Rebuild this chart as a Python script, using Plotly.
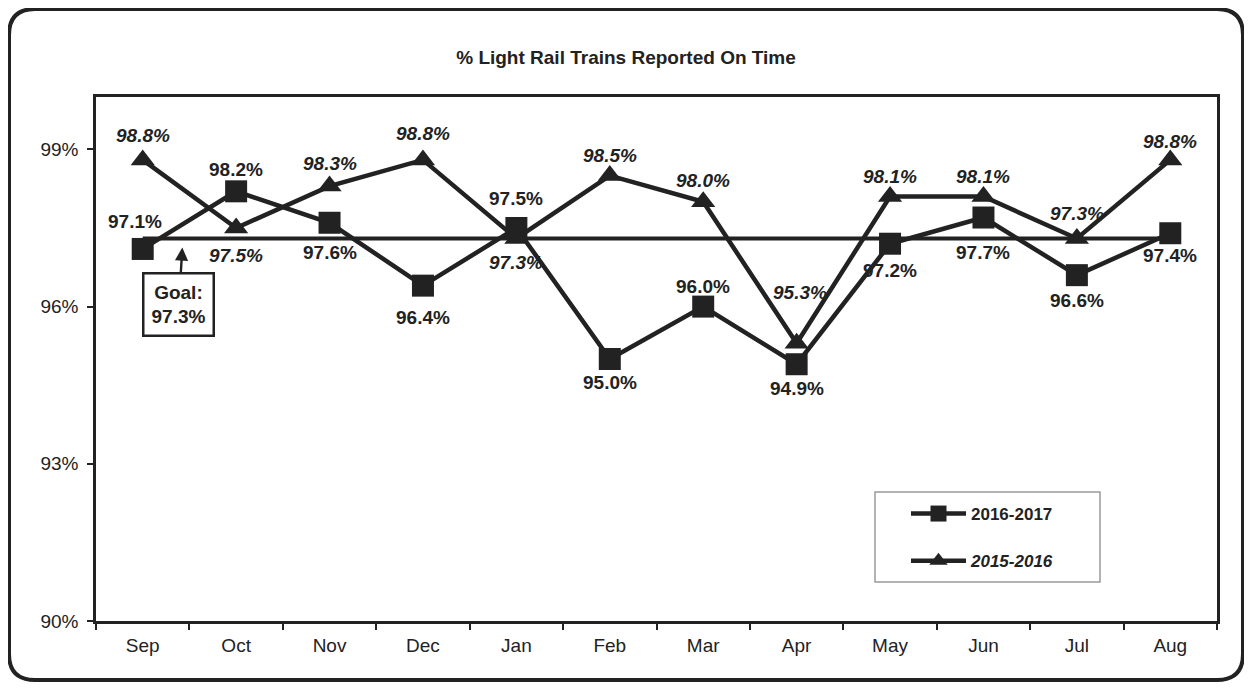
import plotly.graph_objects as go

# ---- data ----
months = ["Sep", "Oct", "Nov", "Dec", "Jan", "Feb", "Mar", "Apr", "May", "Jun", "Jul", "Aug"]
fy_2016_2017 = [97.1, 98.2, 97.6, 96.4, 97.5, 95.0, 96.0, 94.9, 97.2, 97.7, 96.6, 97.4]
fy_2015_2016 = [98.8, 97.5, 98.3, 98.8, 97.3, 98.5, 98.0, 95.3, 98.1, 98.1, 97.3, 98.8]
goal = 97.3
y_ticks = [90, 93, 96, 99]
title_text = "% Light Rail Trains Reported On Time"

# ---- label placement (styles, pixels) ----
shift_1617 = [27, 22, -30, -32, 30, -23, 20, -24, -27, -35, -25, -22]
xshift_1617 = [-8, 0, 0, 0, 0, 0, 0, 0, 0, 0, 0, 0]
shift_1516 = [24, -27, 23, 26, -24, 20, 21, 51, 20, 20, 25, 18]
xshift_1516 = [0, 0, 0, 0, 0, 0, 0, 3, 0, 0, 0, 0]

# page has an 8px body margin; figure sized to fit inside the window
OFF = 8
W, H = 1236, 674
L, T = 96 - OFF, 97 - OFF
PW, PH = 1121, 524
R, B = W - L - PW, H - T - PH
LINE = "#222222"
FONT = "Liberation Sans, Arial, sans-serif"


def px(xp):
    """reference-image x pixel -> paper x"""
    return (xp - OFF - L) / PW


def py(yp):
    """reference-image y pixel -> paper y"""
    return (T + PH - (yp - OFF)) / PH


fig = go.Figure()

fig.add_trace(go.Scatter(
    x=[months[0], months[-1]], y=[goal, goal], mode="lines",
    line=dict(color=LINE, width=4), showlegend=False, hoverinfo="skip"))

fig.add_trace(go.Scatter(
    x=months, y=fy_2016_2017, mode="lines+markers", name="<b>2016-2017</b>",
    line=dict(color=LINE, width=4.5),
    marker=dict(symbol="square", size=22, color=LINE),
    legendgroup="a"))

fig.add_trace(go.Scatter(
    x=months, y=fy_2015_2016, mode="lines+markers", name="<b><i>2015-2016</i></b>",
    line=dict(color=LINE, width=4.5),
    marker=dict(symbol="triangle-up", size=21, color=LINE),
    legendgroup="b"))

ann = []
for i, v in enumerate(fy_2016_2017):
    ann.append(dict(x=months[i], y=v, text=f"<b>{v:.1f}%</b>", showarrow=False,
                    yshift=shift_1617[i], xshift=xshift_1617[i],
                    font=dict(size=19, color=LINE, family=FONT)))
for i, v in enumerate(fy_2015_2016):
    ann.append(dict(x=months[i], y=v, text=f"<b><i>{v:.1f}%</i></b>", showarrow=False,
                    yshift=shift_1516[i], xshift=xshift_1516[i],
                    font=dict(size=19, color=LINE, family=FONT)))

# goal callout
ann.append(dict(x=0.43, y=goal, xref="x", yref="y",
                text=f"<b>Goal:<br>{goal:.1f}%</b>", showarrow=True,
                arrowhead=2, arrowsize=1.1, arrowwidth=2.4, arrowcolor=LINE,
                ax=-4, ay=66, standoff=9,
                bordercolor=LINE, borderwidth=2.5, borderpad=7, bgcolor="white",
                font=dict(size=19, color=LINE, family=FONT)))

# outer rounded frame
x0, x1, y0, y1, r = 9, 1243, 9, 680, 26
path = (f"M {px(x0 + r)},{py(y0)} L {px(x1 - r)},{py(y0)} "
        f"Q {px(x1)},{py(y0)} {px(x1)},{py(y0 + r)} "
        f"L {px(x1)},{py(y1 - r)} Q {px(x1)},{py(y1)} {px(x1 - r)},{py(y1)} "
        f"L {px(x0 + r)},{py(y1)} Q {px(x0)},{py(y1)} {px(x0)},{py(y1 - r)} "
        f"L {px(x0)},{py(y0 + r)} Q {px(x0)},{py(y0)} {px(x0 + r)},{py(y0)} Z")

shapes = [
    dict(type="path", path=path, xref="paper", yref="paper",
         line=dict(color=LINE, width=4), layer="above"),
    # legend box
    dict(type="rect", xref="paper", yref="paper",
         x0=px(875), x1=px(1100), y0=py(582), y1=py(492),
         line=dict(color="#9a9a9a", width=1.5), fillcolor="white", layer="below"),
]

fig.update_layout(
    width=W, height=H,
    margin=dict(l=L, r=R, t=T, b=B),
    paper_bgcolor="white", plot_bgcolor="white",
    font=dict(family=FONT, color=LINE),
    title=dict(text=f"<b>{title_text}</b>", x=0.5, xref="container", xanchor="center",
               y=1 - (57 - OFF) / H, yanchor="middle", font=dict(size=19, color=LINE)),
    xaxis=dict(type="category", categoryorder="array", categoryarray=months,
               range=[-0.5, 11.5], showline=True, linewidth=2.5,
               linecolor=LINE, mirror=True, ticks="outside", tickson="boundaries",
               ticklen=6, tickwidth=1.5, tickcolor=LINE, showgrid=False,
               tickfont=dict(size=19, color=LINE), ticklabelstandoff=5),
    yaxis=dict(range=[90, 100], tickvals=y_ticks, ticktext=[f"{t}%" for t in y_ticks],
               showline=True, linewidth=2.5, linecolor=LINE, mirror=True,
               ticks="outside", ticklen=6, tickwidth=1.5, tickcolor=LINE,
               showgrid=False, zeroline=False, tickfont=dict(size=19, color=LINE),
               ticklabelstandoff=5),
    legend=dict(x=px(906), y=py(496), xanchor="left", yanchor="top",
                borderwidth=0, bgcolor="rgba(0,0,0,0)",
                font=dict(size=17, color=LINE), itemwidth=55,
                tracegroupgap=22, traceorder="grouped"),
    annotations=ann,
    shapes=shapes,
)

fig.write_html("out.html")
